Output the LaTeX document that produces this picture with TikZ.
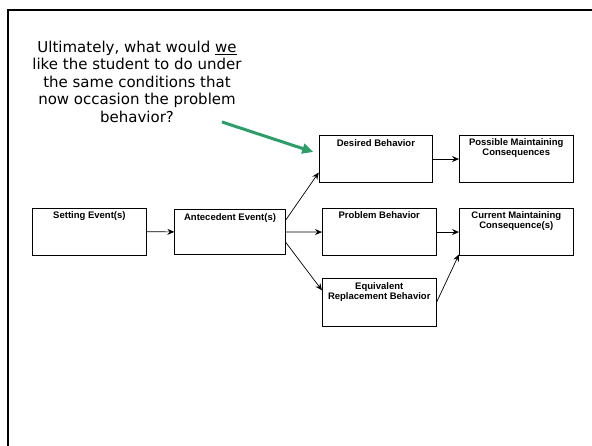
\documentclass[tikz,border=0pt]{standalone}
\usepackage{fontspec}
\setmainfont{Liberation Sans}
\newfontfamily\qfont{DejaVu Sans}
\usetikzlibrary{arrows.meta,calc}
\definecolor{pointergreen}{RGB}{46,158,104}

\begin{document}
\begin{tikzpicture}[x=1pt,y=-1pt,
  box/.style={draw, line width=0.8pt, inner sep=0pt, anchor=north west},
  boxlabel/.style={font=\fontsize{9.5}{10}\selectfont\bfseries, align=center, anchor=north, inner sep=0pt},
  flow/.style={-{Stealth[length=7pt,width=6pt,inset=2.5pt]}, line width=0.7pt},
  pointer/.style={pointergreen, line width=3pt, -{Triangle[length=11pt,width=10pt]}},
  qtext/.style={font=\qfont\fontsize{15}{17.5}\selectfont, align=center, inner sep=0pt},
  frameline/.style={line width=2pt},
]
\useasboundingbox (0,0) rectangle (592,446);

% slide frame (left and top edges)
\draw[frameline] (7.5,446) -- (7.5,10) -- (592,10);

% question text
\node[qtext] (question) at (137,81.5) {Ultimately, what would \underline{we}\\ like the student to do under\\ the same conditions that\\ now occasion the problem\\ behavior?};

% boxes
\node[box, minimum width=113.4pt, minimum height=47.3pt] (set)  at (32.3,207.7) {};
\node[box, minimum width=110.7pt, minimum height=45pt]   (ant)  at (174.3,209) {};
\node[box, minimum width=113.6pt, minimum height=47.3pt] (des)  at (318.7,135) {};
\node[box, minimum width=113.7pt, minimum height=47.3pt] (pos)  at (459,135) {};
\node[box, minimum width=113.7pt, minimum height=46.7pt] (prob) at (322,208.3) {};
\node[box, minimum width=113.7pt, minimum height=46.7pt] (cur)  at (459,208.3) {};
\node[box, minimum width=113.7pt, minimum height=47.4pt] (equ)  at (322,278.3) {};

% box titles
\node[boxlabel] (setT)  at ($(set.north)+(0,3.5)$)  {Setting Event(s)};
\node[boxlabel] (antT)  at ($(ant.north)+(0,4)$)    {Antecedent Event(s)};
\node[boxlabel] (desT)  at ($(des.north)+(0,4.5)$)  {Desired Behavior};
\node[boxlabel] (posT)  at ($(pos.north)+(0,3.5)$)  {Possible Maintaining\\Consequences};
\node[boxlabel] (probT) at ($(prob.north)+(0,3.5)$) {Problem Behavior};
\node[boxlabel] (curT)  at ($(cur.north)+(0,3.5)$)  {Current Maintaining\\Consequence(s)};
\node[boxlabel] (equT)  at ($(equ.north)+(0,4)$)    {Equivalent\\Replacement Behavior};

% flow connectors
\draw[flow] (set.east) -- (ant.west);
\draw[flow] (ant.east) -- (prob.west);
\draw[flow] (des.east) -- (pos.west);
\draw[flow] (prob.east) -- (cur.west);
\draw[flow] ($(ant.north east)!0.24!(ant.south east)$) -- ($(des.north west)!0.78!(des.south west)$);
\draw[flow] ($(ant.north east)!0.73!(ant.south east)$) -- ($(equ.north west)!0.25!(equ.south west)$);
\draw[flow] (equ.east) -- ($(cur.north west)!0.97!(cur.south west)$);

% green pointer from the question to the desired behavior box
\coordinate (gstart) at (222,122);
\coordinate (gend) at ($(des.north west)+(-5.5,17)$);
\draw[pointer] (gstart) -- (gend);
\end{tikzpicture}
\end{document}
